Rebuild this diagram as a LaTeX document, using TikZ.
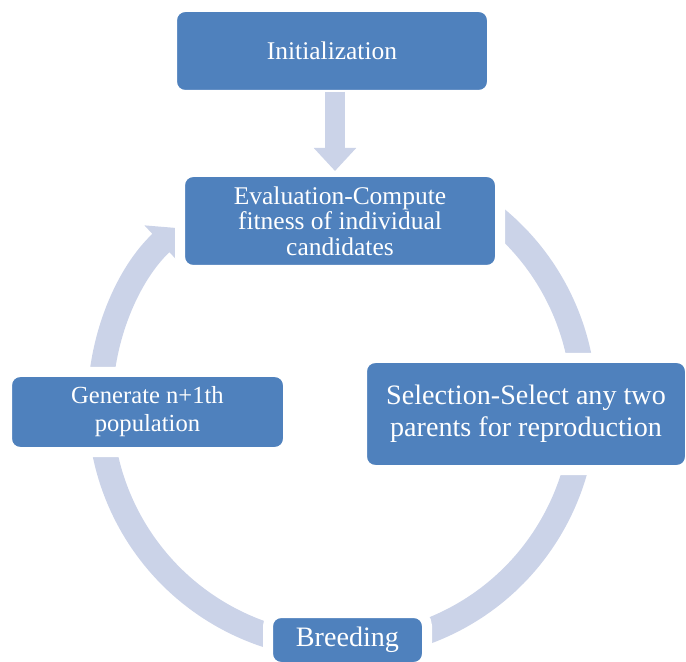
\documentclass[tikz,border=0pt]{standalone}
\usepackage{fontspec}
\setmainfont{Liberation Serif}
\usetikzlibrary{arrows.meta}
\definecolor{boxblue}{RGB}{79,129,189}
\definecolor{ringblue}{RGB}{203,211,232}
\begin{document}
\begin{tikzpicture}[
  stage/.style={draw=white, line width=0.2cm, fill=boxblue, text=white, rounded corners=0.26cm, align=center, inner sep=2pt, outer sep=0pt},
  ring/.style={draw=ringblue, line width=0.5cm, -{Triangle[width=0.94cm, length=0.44cm]}},
  flow/.style={draw=ringblue, line width=0.4cm, -{Triangle[width=0.82cm, length=0.46cm]}}
]
  \useasboundingbox (0,0) rectangle (13.72,13.22);
  \clip (0,0) rectangle (13.72,13.22);
  % ring of the cycle, behind the stages
  \coordinate (hub) at (6.84,5.12);
  \draw[ring] (hub) ++(60:4.84) arc[start angle=60, end angle=-227, radius=4.84cm];
  % stages
  \node[stage, minimum width=6.4cm, minimum height=1.76cm, font=\fontsize{14.5}{16}\selectfont] (init) at (6.64,12.20) {Initialization};
  \node[stage, minimum width=6.4cm, minimum height=1.96cm, font=\fontsize{14.5}{14.5}\selectfont] (eval) at (6.80,8.80) {Evaluation-Compute\\ fitness of individual\\ candidates};
  \node[stage, minimum width=6.56cm, minimum height=2.24cm, font=\fontsize{16}{18}\selectfont] (select) at (10.52,4.94) {Selection-Select any two\\ parents for reproduction};
  \node[stage, minimum width=5.62cm, minimum height=1.6cm, font=\fontsize{14}{16}\selectfont] (gen) at (2.95,4.98) {Generate n+1th\\ population};
  \node[stage, minimum width=3.18cm, minimum height=1.08cm, font=\fontsize{16}{18}\selectfont] (breed) at (6.95,0.42) {Breeding};
  % arrow
  \draw[flow, shorten <=-0.06cm, shorten >=0.02cm] ([xshift=0.06cm]init.south) -- ([xshift=-0.1cm]eval.north);
\end{tikzpicture}
\end{document}
